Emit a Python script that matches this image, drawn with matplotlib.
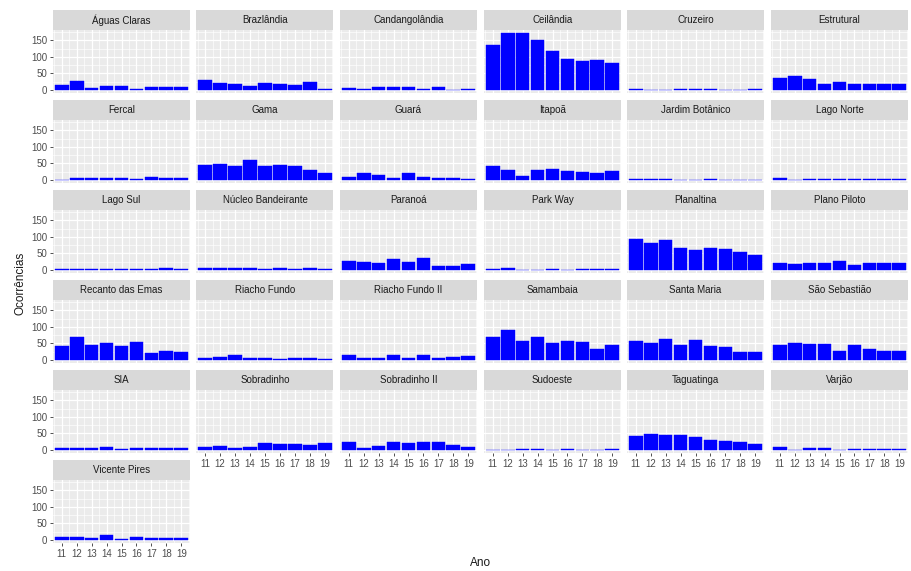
import matplotlib
matplotlib.use("Agg")
import matplotlib.pyplot as plt
from matplotlib.ticker import MultipleLocator

plt.rcParams["font.family"] = ["Liberation Sans", "DejaVu Sans"]

anos = [11, 12, 13, 14, 15, 16, 17, 18, 19]

regioes = [
    "Águas Claras", "Brazlândia", "Candangolândia", "Ceilândia", "Cruzeiro", "Estrutural",
    "Fercal", "Gama", "Guará", "Itapoã", "Jardim Botânico", "Lago Norte",
    "Lago Sul", "Núcleo Bandeirante", "Paranoá", "Park Way", "Planaltina", "Plano Piloto",
    "Recanto das Emas", "Riacho Fundo", "Riacho Fundo II", "Samambaia", "Santa Maria", "São Sebastião",
    "SIA", "Sobradinho", "Sobradinho II", "Sudoeste", "Taguatinga", "Varjão",
    "Vicente Pires",
]

ocorrencias = [
    [15, 27, 7, 12, 12, 2, 8, 8, 8],
    [29, 21, 18, 11, 21, 19, 14, 24, 3],
    [6, 2, 8, 8, 8, 3, 8, 0, 2],
    [135, 172, 172, 150, 118, 95, 88, 91, 82],
    [2, 1, 0, 2, 2, 2, 0, 0, 2],
    [35, 43, 34, 17, 24, 18, 18, 18, 18],
    [0, 5, 5, 5, 5, 4, 10, 5, 5],
    [44, 48, 41, 61, 41, 45, 42, 29, 22],
    [10, 20, 16, 7, 20, 8, 5, 5, 3],
    [42, 29, 13, 29, 32, 27, 25, 22, 27],
    [3, 4, 2, 0, 0, 2, 0, 0, 1],
    [5, 0, 2, 2, 3, 2, 2, 2, 2],
    [2, 2, 2, 2, 2, 2, 2, 5, 2],
    [5, 7, 7, 5, 2, 5, 2, 5, 2],
    [28, 25, 22, 32, 25, 36, 13, 13, 18],
    [2, 5, 0, 0, 2, 0, 2, 2, 2],
    [95, 81, 90, 66, 61, 66, 64, 54, 46],
    [22, 19, 22, 22, 26, 15, 20, 20, 20],
    [43, 68, 44, 50, 43, 53, 21, 27, 23],
    [6, 10, 14, 6, 6, 4, 6, 6, 4],
    [14, 6, 6, 15, 6, 15, 6, 10, 12],
    [69, 90, 57, 69, 50, 57, 54, 34, 46],
    [58, 50, 62, 46, 59, 43, 38, 24, 24],
    [46, 50, 48, 48, 28, 46, 33, 27, 27],
    [5, 5, 5, 8, 2, 5, 5, 5, 5],
    [10, 13, 7, 10, 22, 19, 17, 14, 22],
    [24, 5, 12, 25, 21, 24, 24, 14, 9],
    [0, 0, 4, 4, 0, 4, 0, 0, 4],
    [41, 47, 44, 44, 39, 31, 27, 23, 17],
    [8, 0, 5, 5, 0, 2, 2, 2, 2],
    [9, 9, 5, 14, 3, 9, 5, 5, 5],
]

W, H = 912, 571
ncol = 6
col_left = [53, 196.5, 340, 484, 627, 771]
panel_w = 137
strip_top0 = 10
row_pitch = 90
strip_h = 20
panel_h = 63


def fig_rect(x, y, w, h):
    return [x / W, 1 - (y + h) / H, w / W, h / H]


fig = plt.figure(figsize=(W / 100, H / 100), dpi=100)

n = len(regioes)
for i, (nome, vals) in enumerate(zip(regioes, ocorrencias)):
    r, c = divmod(i, ncol)
    x0 = col_left[c]
    y0 = strip_top0 + r * row_pitch

    # strip
    sax = fig.add_axes(fig_rect(x0, y0, panel_w, strip_h))
    sax.set_facecolor("#d9d9d9")
    sax.set_xticks([])
    sax.set_yticks([])
    for s in sax.spines.values():
        s.set_visible(False)
    sax.text(0.5, 0.5, nome, ha="center", va="center", fontsize=7, color="#1a1a1a",
             transform=sax.transAxes)

    # panel
    ax = fig.add_axes(fig_rect(x0, y0 + strip_h, panel_w, panel_h))
    ax.set_facecolor("#ebebeb")
    for s in ax.spines.values():
        s.set_visible(False)
    ax.set_xlim(10.42, 19.58)
    ax.set_ylim(-8.6, 180.6)
    ax.xaxis.set_major_locator(MultipleLocator(1))
    ax.xaxis.set_minor_locator(MultipleLocator(0.5))
    ax.yaxis.set_major_locator(MultipleLocator(50))
    ax.yaxis.set_minor_locator(MultipleLocator(25))
    ax.grid(which="major", color="white", linewidth=0.9)
    ax.grid(which="minor", color="white", linewidth=0.45)
    ax.set_axisbelow(True)
    ax.bar(anos, vals, width=0.92, color="#0000ff", edgecolor="#0000ff", linewidth=0.3)

    ax.tick_params(which="minor", length=0)
    ax.tick_params(which="major", length=2.5, width=0.6, color="#333333",
                   labelsize=7, labelcolor="#4d4d4d", pad=1.5)

    bottom = (i + ncol >= n)
    if bottom:
        ax.set_xticks(anos)
        ax.set_xticklabels([str(a) for a in anos])
    else:
        ax.tick_params(axis="x", length=0, labelbottom=False)
    if c == 0:
        ax.set_yticks([0, 50, 100, 150])
        ax.set_yticklabels(["0", "50", "100", "150"])
    else:
        ax.tick_params(axis="y", length=0, labelleft=False)

fig.text(21 / W, 1 - 283 / H, "Ocorrências", rotation=90, ha="center", va="center",
         fontsize=8.5, color="#1a1a1a")
fig.text(481 / W, 1 - 563 / H, "Ano", ha="center", va="center", fontsize=8.5, color="#1a1a1a")

fig.savefig("out.png", dpi=100, facecolor="white")
